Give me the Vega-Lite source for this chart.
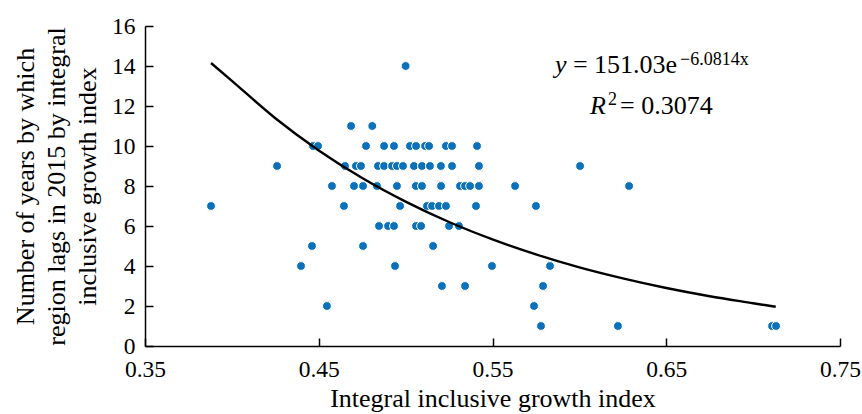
{
  "$schema": "https://vega.github.io/schema/vega-lite/v6.json",
  "width": 695,
  "height": 320,
  "autosize": {"type": "none"},
  "padding": {"left": 145, "top": 26, "right": 22, "bottom": 68},
  "background": "white",
  "config": {
    "view": {"stroke": null},
    "font": "Liberation Serif",
    "axis": {
      "grid": false,
      "domainColor": "#000000",
      "domainWidth": 1.5,
      "tickColor": "#000000",
      "tickWidth": 1.5,
      "tickSize": -8,
      "labelColor": "#000000",
      "titleColor": "#000000",
      "labelFont": "Liberation Serif",
      "titleFont": "Liberation Serif",
      "labelFontSize": 23.5,
      "titleFontSize": 26,
      "titleFontWeight": "normal",
      "labelOverlap": false,
      "labelFlush": false
    }
  },
  "datasets": {
    "points": [
      {"x": 0.5, "y": 14},
      {"x": 0.4686, "y": 11}, {"x": 0.4808, "y": 11},
      {"x": 0.4467, "y": 10}, {"x": 0.4496, "y": 10}, {"x": 0.4772, "y": 10}, {"x": 0.4876, "y": 10}, {"x": 0.4933, "y": 10}, {"x": 0.5025, "y": 10}, {"x": 0.506, "y": 10}, {"x": 0.5112, "y": 10}, {"x": 0.5135, "y": 10}, {"x": 0.5232, "y": 10}, {"x": 0.5267, "y": 10}, {"x": 0.5411, "y": 10},
      {"x": 0.426, "y": 9}, {"x": 0.4651, "y": 9}, {"x": 0.4714, "y": 9}, {"x": 0.4743, "y": 9}, {"x": 0.4841, "y": 9}, {"x": 0.4876, "y": 9}, {"x": 0.4922, "y": 9}, {"x": 0.495, "y": 9}, {"x": 0.4985, "y": 9}, {"x": 0.5048, "y": 9}, {"x": 0.5094, "y": 9}, {"x": 0.514, "y": 9}, {"x": 0.5203, "y": 9}, {"x": 0.5267, "y": 9}, {"x": 0.5422, "y": 9}, {"x": 0.6004, "y": 9},
      {"x": 0.4576, "y": 8}, {"x": 0.4703, "y": 8}, {"x": 0.4755, "y": 8}, {"x": 0.4835, "y": 8}, {"x": 0.495, "y": 8}, {"x": 0.5059, "y": 8}, {"x": 0.5094, "y": 8}, {"x": 0.5204, "y": 8}, {"x": 0.5313, "y": 8}, {"x": 0.5342, "y": 8}, {"x": 0.5371, "y": 8}, {"x": 0.5422, "y": 8}, {"x": 0.563, "y": 8}, {"x": 0.6286, "y": 8},
      {"x": 0.388, "y": 7}, {"x": 0.4645, "y": 7}, {"x": 0.4968, "y": 7}, {"x": 0.5123, "y": 7}, {"x": 0.5152, "y": 7}, {"x": 0.5192, "y": 7}, {"x": 0.5232, "y": 7}, {"x": 0.5405, "y": 7}, {"x": 0.575, "y": 7},
      {"x": 0.4847, "y": 6}, {"x": 0.4899, "y": 6}, {"x": 0.4933, "y": 6}, {"x": 0.506, "y": 6}, {"x": 0.5089, "y": 6}, {"x": 0.525, "y": 6}, {"x": 0.5307, "y": 6},
      {"x": 0.4461, "y": 5}, {"x": 0.4755, "y": 5}, {"x": 0.5158, "y": 5},
      {"x": 0.4398, "y": 4}, {"x": 0.4939, "y": 4}, {"x": 0.5497, "y": 4}, {"x": 0.5831, "y": 4},
      {"x": 0.5209, "y": 3}, {"x": 0.5342, "y": 3}, {"x": 0.5791, "y": 3},
      {"x": 0.4547, "y": 2}, {"x": 0.5739, "y": 2},
      {"x": 0.5779, "y": 1}, {"x": 0.6222, "y": 1}, {"x": 0.7109, "y": 1}, {"x": 0.7132, "y": 1}
    ],
    "curve": [
      {"x": 0.388, "y": 14.15}, {"x": 0.4, "y": 13.26}, {"x": 0.425, "y": 11.39}, {"x": 0.45, "y": 9.78},
      {"x": 0.475, "y": 8.4}, {"x": 0.5, "y": 7.22}, {"x": 0.525, "y": 6.2}, {"x": 0.55, "y": 5.33},
      {"x": 0.575, "y": 4.58}, {"x": 0.6, "y": 3.93}, {"x": 0.625, "y": 3.38}, {"x": 0.65, "y": 2.9},
      {"x": 0.675, "y": 2.49}, {"x": 0.7, "y": 2.14}, {"x": 0.713, "y": 1.96}
    ],
    "italic": [
      {"x": 0.586, "y": 13.63, "label": "y"},
      {"x": 0.6061, "y": 11.6, "label": "R"}
    ],
    "normal": [
      {"x": 0.5963, "y": 13.63, "label": "= 151.03e"},
      {"x": 0.6234, "y": 11.6, "label": "= 0.3074"}
    ],
    "sup": [
      {"x": 0.6579, "y": 14.05, "label": "−6.0814x"},
      {"x": 0.6165, "y": 12.05, "label": "2"}
    ]
  },
  "encoding": {
    "x": {
      "field": "x",
      "type": "quantitative",
      "scale": {"domain": [0.35, 0.75], "nice": false, "zero": false},
      "axis": {
        "values": [0.35, 0.45, 0.55, 0.65, 0.75],
        "format": ".2f",
        "title": "Integral inclusive growth index",
        "labelPadding": 19,
        "titlePadding": 5
      }
    },
    "y": {
      "field": "y",
      "type": "quantitative",
      "scale": {"domain": [0, 16], "nice": false},
      "axis": {
        "values": [0, 2, 4, 6, 8, 10, 12, 14, 16],
        "title": ["Number of years by which", "region lags in 2015 by integral", "inclusive growth index"],
        "titleLineHeight": 31,
        "labelPadding": 18,
        "titlePadding": 11
      }
    }
  },
  "layer": [
    {
      "data": {"name": "points"},
      "mark": {"type": "point", "filled": true, "shape": "circle", "size": 78, "color": "#0b71ba", "opacity": 1, "stroke": "white", "strokeWidth": 1}
    },
    {
      "data": {"name": "curve"},
      "mark": {"type": "line", "color": "#000000", "strokeWidth": 2.4, "interpolate": "monotone"}
    },
    {
      "data": {"name": "italic"},
      "mark": {"type": "text", "align": "left", "baseline": "alphabetic", "fontSize": 26, "fontStyle": "italic", "font": "Liberation Serif", "color": "#000000"},
      "encoding": {"text": {"field": "label"}}
    },
    {
      "data": {"name": "normal"},
      "mark": {"type": "text", "align": "left", "baseline": "alphabetic", "fontSize": 26, "font": "Liberation Serif", "color": "#000000"},
      "encoding": {"text": {"field": "label"}}
    },
    {
      "data": {"name": "sup"},
      "mark": {"type": "text", "align": "left", "baseline": "alphabetic", "fontSize": 18, "font": "Liberation Serif", "color": "#000000"},
      "encoding": {"text": {"field": "label"}}
    }
  ]
}
